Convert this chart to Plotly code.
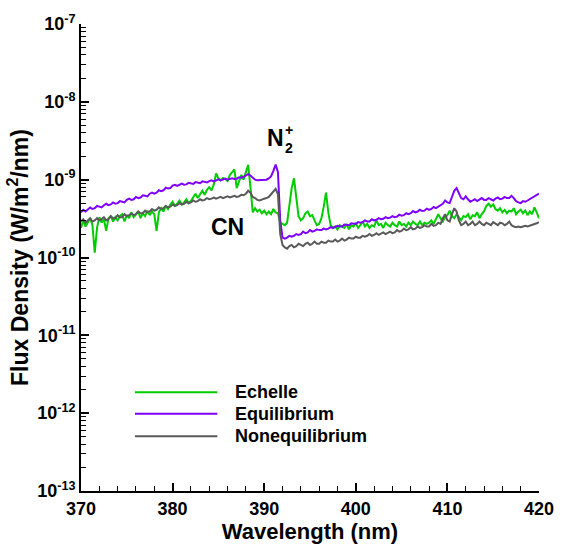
import numpy as np
import plotly.graph_objects as go

# Wavelength grid (nm), 0.25 nm sampling
wavelength = np.arange(370.0, 420.001, 0.25)

# Spectral flux density in units of 1e-10 W/m^2/nm, one row per 2 nm
echelle = [
    2.4, 3.0, 2.5, 2.8, 3.2, 2.6, 1.15, 2.4,
    3.3, 2.8, 3.1, 2.2, 3.2, 3.4, 2.9, 3.3,
    3.0, 3.4, 3.6, 2.9, 3.5, 3.2, 3.8, 3.3,
    3.6, 3.9, 3.2, 3.7, 3.4, 4.0, 3.5, 3.9,
    3.6, 2.2, 3.8, 4.3, 3.9, 4.6, 4.2, 4.8,
    5.2, 4.6, 4.9, 5.4, 4.8, 5.1, 5.6, 5.0,
    5.3, 5.9, 6.6, 5.8, 6.5, 7.2, 6.4, 7.4,
    8.0, 7.3, 8.7, 12.0, 10.4, 9.8, 10.5, 10.2,
    9.6, 11.5, 12.5, 13.5, 7.8, 9.5, 11.5, 10.0,
    13.0, 15.5, 8.0, 3.8, 4.3, 3.9, 4.1, 3.7,
    4.0, 3.6, 3.9, 3.6, 4.2, 3.8, 3.7, 2.8,
    2.7, 2.6, 2.8, 4.5, 7.8, 10.4, 6.0, 3.4,
    3.0, 3.2, 3.7, 3.9, 3.4, 3.5, 3.0, 2.6,
    2.7, 3.2, 4.5, 6.8, 3.8, 2.6, 2.4, 2.5,
    2.3, 2.6, 2.5, 2.4, 2.7, 2.3, 2.6, 2.5,
    2.8, 2.4, 2.6, 2.9, 2.5, 2.7, 2.4, 2.6,
    2.5, 3.0, 2.6, 2.7, 2.4, 2.8, 2.6, 2.5,
    2.8, 2.6, 2.5, 2.9, 2.6, 2.7, 2.5, 2.8,
    2.6, 2.9, 2.7, 2.6, 2.9, 2.6, 2.8, 2.7,
    2.8, 3.0, 2.7, 3.1, 3.6, 3.2, 2.9, 3.3,
    3.5, 4.0, 3.4, 3.2, 3.6, 3.3, 3.0, 3.4,
    3.3, 3.6, 3.1, 3.5, 3.4, 3.8, 3.2, 3.6,
    3.9, 4.6, 4.9, 4.5, 4.8, 4.2, 4.0, 4.3,
    3.8, 4.1, 3.7, 4.0, 3.9, 4.3, 3.6, 3.9,
    4.1, 3.7, 4.0, 3.5, 3.9, 3.6, 4.4, 3.8,
    3.2,
]

equilibrium = [
    3.8, 4.1, 3.9, 4.2, 4.4, 4.2, 4.3, 4.6,
    4.5, 4.4, 4.7, 4.9, 4.7, 4.8, 5.1, 4.9,
    5.0, 5.3, 5.2, 5.1, 5.5, 5.7, 5.5, 5.6,
    6.0, 5.8, 5.9, 6.3, 6.2, 6.1, 6.6, 6.8,
    6.6, 6.8, 7.3, 7.1, 7.3, 7.9, 7.7, 7.8,
    8.4, 8.6, 8.3, 8.5, 8.9, 8.6, 8.7, 9.1,
    8.9, 8.8, 9.3, 9.2, 9.0, 9.5, 9.4, 9.2,
    9.6, 9.8, 9.5, 9.8, 10.1, 9.8, 10.0, 10.3,
    10.0, 10.1, 10.4, 10.2, 10.3, 10.7, 10.6, 10.9,
    11.4, 11.8, 11.3, 10.5, 10.0, 9.8, 9.9, 9.8,
    9.9, 10.0, 10.4, 11.0, 13.0, 15.6, 12.5, 3.0,
    1.8, 1.75, 1.8, 1.9, 1.85, 1.9, 2.0, 1.95,
    2.0, 2.15, 2.05, 2.1, 2.25, 2.15, 2.2, 2.3,
    2.25, 2.25, 2.35, 2.3, 2.35, 2.45, 2.4, 2.45,
    2.55, 2.5, 2.5, 2.65, 2.6, 2.6, 2.75, 2.7,
    2.7, 2.85, 2.8, 2.85, 3.0, 2.9, 2.9, 3.1,
    3.0, 3.05, 3.2, 3.1, 3.15, 3.3, 3.2, 3.25,
    3.4, 3.3, 3.35, 3.55, 3.45, 3.5, 3.7, 3.6,
    3.7, 3.95, 3.8, 3.9, 4.1, 3.95, 4.0, 4.25,
    4.1, 4.2, 4.45, 4.3, 4.5, 4.6, 4.9, 5.4,
    5.1, 5.0, 6.0, 7.2, 7.8, 6.8, 5.8, 5.6,
    6.1, 5.6, 5.2, 5.4, 5.6, 5.3, 5.5, 5.8,
    5.5, 5.5, 5.8, 5.6, 5.4, 5.7, 5.9, 5.6,
    5.7, 6.0, 5.8, 5.8, 6.2, 5.8, 5.3, 5.1,
    5.0, 5.3, 5.2, 5.4, 5.6, 5.8, 6.0, 6.3,
    6.6,
]

nonequilibrium = [
    2.9, 3.1, 2.8, 3.0, 3.2, 2.9, 3.0, 3.2,
    3.0, 3.1, 3.3, 3.0, 3.1, 3.4, 3.2, 3.2,
    3.5, 3.3, 3.3, 3.6, 3.4, 3.5, 3.7, 3.5,
    3.6, 3.9, 3.7, 3.7, 4.0, 3.8, 3.9, 4.2,
    4.0, 4.1, 4.4, 4.2, 4.3, 4.6, 4.4, 4.5,
    4.8, 4.6, 4.7, 5.0, 4.8, 4.9, 5.2, 5.0,
    5.1, 5.4, 5.2, 5.3, 5.6, 5.4, 5.5, 5.8,
    5.6, 5.7, 5.9, 5.7, 5.8, 6.0, 5.8, 5.9,
    6.1, 5.9, 6.0, 6.2, 6.0, 6.1, 6.4, 6.3,
    6.6, 7.2, 6.8, 6.0, 5.8, 5.5, 5.4, 5.6,
    5.7, 5.8, 6.0, 6.5, 7.0, 7.6, 6.5, 2.0,
    1.45, 1.35, 1.3, 1.4, 1.45, 1.35, 1.4, 1.5,
    1.45, 1.4, 1.5, 1.55, 1.45, 1.5, 1.6, 1.5,
    1.5, 1.6, 1.55, 1.55, 1.65, 1.6, 1.6, 1.7,
    1.6, 1.65, 1.75, 1.65, 1.7, 1.8, 1.75, 1.75,
    1.85, 1.8, 1.8, 1.9, 1.85, 1.9, 2.0, 1.9,
    1.95, 2.05, 1.95, 2.0, 2.1, 2.0, 2.05, 2.15,
    2.05, 2.1, 2.25, 2.15, 2.2, 2.35, 2.25, 2.3,
    2.45, 2.3, 2.35, 2.5, 2.4, 2.45, 2.6, 2.5,
    2.5, 2.7, 2.55, 2.6, 2.8, 2.7, 3.2, 3.6,
    3.0, 2.9, 3.6, 4.3, 3.9, 3.0, 2.6, 2.7,
    2.9, 2.6, 2.7, 2.9, 2.6, 2.7, 2.9, 2.7,
    2.6, 2.8, 2.7, 2.6, 2.85, 2.7, 2.6, 2.8,
    2.75, 2.6, 2.7, 2.9, 2.6, 2.5, 2.45, 2.5,
    2.45, 2.5, 2.55, 2.5, 2.55, 2.6, 2.7, 2.75,
    2.85,
]

UNIT = 1e-10

series_names = ["Echelle", "Equilibrium", "Nonequilibrium"]
series_data = [echelle, equilibrium, nonequilibrium]
series_colors = ["#00cc00", "#8000ff", "#5a5a5a"]

x_ticks = [370, 380, 390, 400, 410, 420]
y_exponents = [-13, -12, -11, -10, -9, -8, -7]
y_ticktext = ["10<sup>%d</sup>" % e for e in y_exponents]

W, H = 566, 550
ML, MR, MT, MB = 81, 18, 19, 53
FONT = "Liberation Sans, Arial, sans-serif"


def px(xpix):
    return (xpix - ML) / (W - ML - MR)


def py(ypix):
    return (H - MB - ypix) / (H - MT - MB)


fig = go.Figure()
for name, vals, col in zip(series_names, series_data, series_colors):
    fig.add_trace(go.Scatter(
        x=wavelength, y=np.array(vals) * UNIT, mode="lines", name=name,
        line=dict(color=col, width=2), showlegend=False,
    ))

minor_y = [m * 10.0 ** e for e in range(-13, -7) for m in range(2, 10)]

fig.update_layout(
    width=W, height=H,
    margin=dict(l=ML, r=MR, t=MT, b=MB),
    paper_bgcolor="white", plot_bgcolor="white",
    font=dict(family=FONT, color="black"),
    xaxis=dict(
        range=[370, 420], tickmode="array", tickvals=x_ticks,
        ticks="inside", ticklen=8, tickwidth=2, tickcolor="black",
        showline=True, linewidth=2, linecolor="black",
        showgrid=False, zeroline=False,
        tickfont=dict(size=18, weight="bold"),
        minor=dict(dtick=2, tick0=370, ticks="inside", ticklen=5,
                   tickwidth=1, tickcolor="black", showgrid=False),
        title=dict(text="Wavelength (nm)", font=dict(size=22, weight="bold"),
                   standoff=4),
    ),
    yaxis=dict(
        type="log", range=[-13, -7], tickmode="array",
        tickvals=[10.0 ** e for e in y_exponents], ticktext=y_ticktext,
        ticks="inside", ticklen=8, tickwidth=2, tickcolor="black",
        showline=True, linewidth=2, linecolor="black",
        showgrid=False, zeroline=False,
        tickfont=dict(size=18, weight="bold"),
        minor=dict(tickmode="array", tickvals=minor_y, ticks="inside",
                   ticklen=5, tickwidth=1, tickcolor="black", showgrid=False),
        title=dict(text="Flux Density (W/m<sup>2</sup>/nm)",
                   font=dict(size=23, weight="bold"), standoff=2),
    ),
)

# Legend drawn as short line segments with labels
legend_rows = [396, 418, 441]
for name, col, yy in zip(series_names, series_colors, legend_rows):
    fig.add_shape(type="line", xref="paper", yref="paper",
                  x0=px(136), x1=px(220), y0=py(yy), y1=py(yy),
                  line=dict(color=col, width=2))
    fig.add_annotation(xref="paper", yref="paper", x=px(236), y=py(yy),
                       text="<b>%s</b>" % name, showarrow=False,
                       xanchor="left", yanchor="middle",
                       font=dict(size=18, color="black"))

# Band labels
fig.add_annotation(xref="paper", yref="paper", x=px(230), y=py(227),
                   text="<b>CN</b>", showarrow=False, xanchor="center",
                   yanchor="middle", font=dict(size=23, color="black"))
fig.add_annotation(xref="paper", yref="paper", x=px(279), y=py(136),
                   text="<b>N</b>", showarrow=False, xanchor="center",
                   yanchor="middle", font=dict(size=23, color="black"))
fig.add_annotation(xref="paper", yref="paper", x=px(293), y=py(146),
                   text="<b>2</b>", showarrow=False, xanchor="center",
                   yanchor="middle", font=dict(size=14, color="black"))
fig.add_annotation(xref="paper", yref="paper", x=px(293), y=py(128),
                   text="<b>+</b>", showarrow=False, xanchor="center",
                   yanchor="middle", font=dict(size=14, color="black"))

fig.write_html("out.html")
